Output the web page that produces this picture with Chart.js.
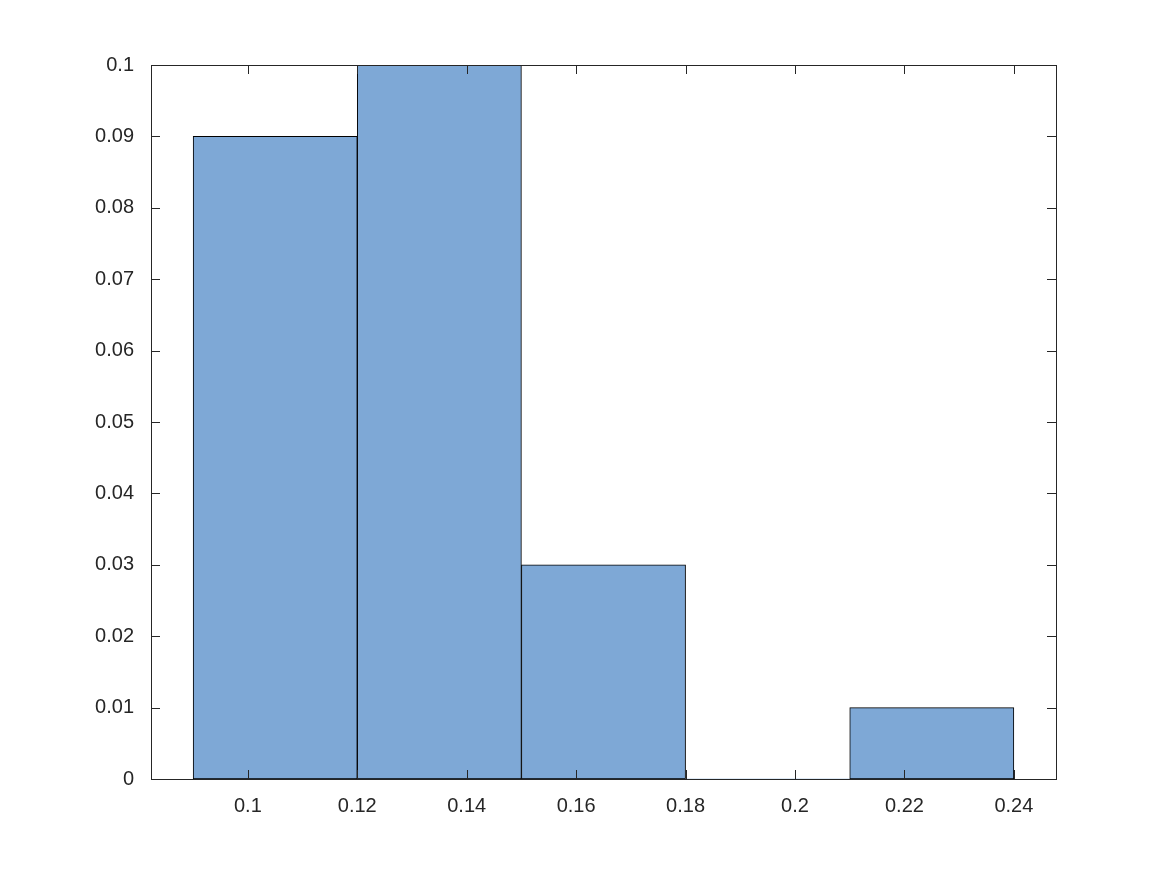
<!DOCTYPE html>
<html>
<head>
<meta charset="utf-8">
<script src="https://cdn.jsdelivr.net/npm/chart.js@4"></script>
<style>
  html, body { margin: 0; padding: 0; background: #fff; }
  #wrap { width: 1166px; height: 875px; }
</style>
</head>
<body>
<div id="wrap"><canvas id="histChart"></canvas></div>
<script>
// histogram data (normalized counts per bin)
const binEdges = [0.09, 0.12, 0.15, 0.18, 0.21, 0.24];
const binValues = [0.09, 0.1, 0.03, 0, 0.01];
const xTicks = [0.1, 0.12, 0.14, 0.16, 0.18, 0.2, 0.22, 0.24];
const yTicks = [0, 0.01, 0.02, 0.03, 0.04, 0.05, 0.06, 0.07, 0.08, 0.09, 0.1];

const axisColor = "#262626";
const labelFont = { family: "Liberation Sans, Arial, sans-serif", size: 20 };
const xMin = 0.0823, xMax = 0.2477;
const barData = binValues.map((v, i) => ({
  x: (binEdges[i] + binEdges[i + 1]) / 2,
  y: v,
}));

// matlab-style box with inward ticks on all four sides
const boxTicks = {
  id: "boxTicks",
  afterDatasetsDraw(chart) {
    const { ctx, chartArea: a, scales } = chart;
    const len = 9;
    ctx.save();
    ctx.strokeStyle = axisColor;
    ctx.lineWidth = 1;
    ctx.beginPath();
    xTicks.forEach((t) => {
      const px = Math.round(scales.x.getPixelForValue(t)) + 0.5;
      ctx.moveTo(px, a.bottom);
      ctx.lineTo(px, a.bottom - len);
      ctx.moveTo(px, a.top);
      ctx.lineTo(px, a.top + len);
    });
    yTicks.forEach((t) => {
      const py = Math.round(scales.y.getPixelForValue(t)) + 0.5;
      ctx.moveTo(a.left, py);
      ctx.lineTo(a.left + len, py);
      ctx.moveTo(a.right, py);
      ctx.lineTo(a.right - len, py);
    });
    ctx.stroke();
    ctx.strokeRect(a.left + 0.5, a.top + 0.5, a.right - a.left, a.bottom - a.top);
    ctx.restore();
  },
};

new Chart(document.getElementById("histChart"), {
  type: "bar",
  data: {
    datasets: [
      {
        data: barData,
        xAxisID: "xb",
        backgroundColor: "rgb(126, 168, 214)",
        borderColor: "#000",
        borderWidth: (c) => (c.raw && c.raw.y === 0 ? 0 : 1),
        borderSkipped: false,
        barPercentage: 1,
        categoryPercentage: 1,
      },
    ],
  },
  options: {
    responsive: true,
    maintainAspectRatio: false,
    animation: false,
    layout: { padding: { left: 0, right: 110, top: 65, bottom: 0 } },
    plugins: {
      legend: { display: false },
      tooltip: { enabled: false },
    },
    scales: {
      // hidden axis carrying the bins, ticks on bin edges so bars fill each bin
      xb: {
        type: "linear",
        display: false,
        offset: false,
        min: xMin,
        max: xMax,
        afterBuildTicks: (s) => { s.ticks = binEdges.map((v) => ({ value: v })); },
      },
      x: {
        type: "linear",
        offset: false,
        min: xMin,
        max: xMax,
        grid: { display: false },
        border: { display: false },
        afterBuildTicks: (s) => { s.ticks = xTicks.map((v) => ({ value: v })); },
        afterFit: (s) => { s.height = 96; },
        ticks: {
          padding: 7,
          maxRotation: 0,
          color: axisColor,
          font: labelFont,
          callback: (v) => String(+v.toFixed(2)),
        },
      },
      y: {
        min: 0,
        max: 0.1,
        grid: { display: false },
        border: { display: false },
        afterBuildTicks: (s) => { s.ticks = yTicks.map((v) => ({ value: v })); },
        afterFit: (s) => { s.width = 151; },
        ticks: {
          padding: 9,
          color: axisColor,
          font: labelFont,
          callback: (v) => String(+v.toFixed(2)),
        },
      },
    },
  },
  plugins: [boxTicks],
});
</script>
</body>
</html>
